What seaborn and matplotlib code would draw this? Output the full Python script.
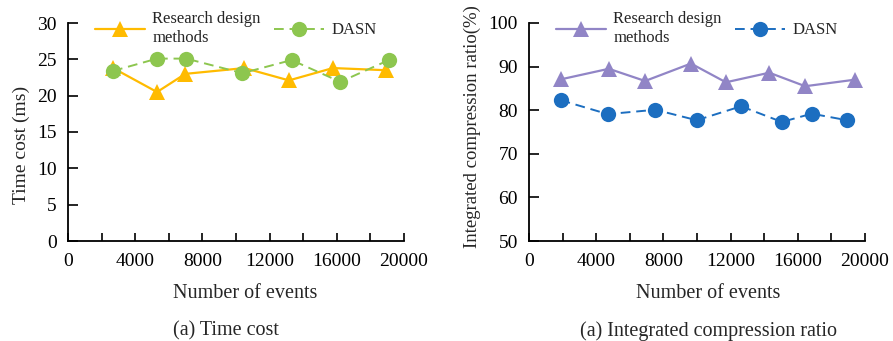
import matplotlib
matplotlib.use("Agg")
import matplotlib.pyplot as plt
import seaborn as sns
import pandas as pd
from matplotlib.ticker import MultipleLocator

# ---- data ----
time_rd_x = [2680, 5300, 6980, 10500, 13150, 15770, 18950]
time_rd_y = [23.8, 20.5, 23.0, 23.8, 22.1, 23.8, 23.5]
time_dasn_x = [2680, 5300, 7040, 10380, 13310, 16210, 19100]
time_dasn_y = [23.4, 25.1, 25.1, 23.1, 24.9, 21.9, 24.9]

comp_rd_x = [1920, 4750, 6910, 9640, 11720, 14300, 16440, 19400]
comp_rd_y = [87.1, 89.5, 86.7, 90.7, 86.4, 88.6, 85.5, 87.0]
comp_dasn_x = [1880, 4690, 7520, 9980, 12630, 15050, 16830, 18930]
comp_dasn_y = [82.3, 79.1, 80.1, 77.7, 80.9, 77.3, 79.2, 77.7]

series_names = ["Research design\nmethods", "DASN"]
xticks = [0, 4000, 8000, 12000, 16000, 20000]
captions = ["(a) Time cost", "(a) Integrated compression ratio"]
ylabels = ["Time cost (ms)", "Integrated compression ratio(%)"]
xlabel = "Number of events"

sns.set_style("white")
plt.rcParams["font.family"] = ["Liberation Serif", "DejaVu Serif"]
plt.rcParams["mathtext.fontset"] = "stix"

fig = plt.figure(figsize=(8.93, 3.41), dpi=100)
W, H = 893, 341

def add_axes(x0, x1, y0, y1):
    return fig.add_axes([x0 / W, 1 - y1 / H, (x1 - x0) / W, (y1 - y0) / H])

ax1 = add_axes(68, 404, 23, 241)
ax2 = add_axes(529, 865, 23, 241)

def draw(ax, rx, ry, dx, dy, c1, c2, ylim, ystep):
    df1 = pd.DataFrame({"x": rx, "y": ry})
    df2 = pd.DataFrame({"x": dx, "y": dy})
    sns.lineplot(data=df1, x="x", y="y", ax=ax, color=c1, marker="^",
                 markersize=11.5, markeredgewidth=0, linewidth=1.6,
                 label=series_names[0], sort=False)
    sns.lineplot(data=df2, x="x", y="y", ax=ax, color=c2, marker="o",
                 markersize=11, markeredgewidth=0, linewidth=1.4,
                 linestyle=(0, (5, 3)), label=series_names[1], sort=False)
    ax.set_xlim(0, 20000)
    ax.set_ylim(*ylim)
    ax.set_xticks(xticks)
    ax.set_xticklabels([str(t) for t in xticks])
    ax.xaxis.set_minor_locator(MultipleLocator(2000))
    ax.yaxis.set_major_locator(MultipleLocator(ystep))
    for s in ["top", "right"]:
        ax.spines[s].set_visible(False)
    for s in ["left", "bottom"]:
        ax.spines[s].set_color("black")
        ax.spines[s].set_linewidth(1.3)
    ax.tick_params(axis="x", which="both", direction="in", length=6, width=1.2,
                   labelsize=14, pad=9, bottom=True, colors="black")
    ax.tick_params(axis="y", which="major", direction="in", length=7.5, width=1.2,
                   labelsize=14, pad=8, left=True, colors="black")
    ax.set_xlabel(xlabel, fontsize=14.5)
    ax.grid(False)
    leg = ax.legend(loc="center left", bbox_to_anchor=(0.08, 0.975), ncol=2,
                    frameon=False, fontsize=12, handlelength=3.0,
                    handletextpad=0.45, columnspacing=0.8, borderpad=0,
                    borderaxespad=0, labelspacing=0.1)
    leg.set_zorder(5)

draw(ax1, time_rd_x, time_rd_y, time_dasn_x, time_dasn_y,
     "#FFBB00", "#8DC64F", (0, 30), 5)
draw(ax2, comp_rd_x, comp_rd_y, comp_dasn_x, comp_dasn_y,
     "#9185C6", "#1C6EC0", (50, 100), 10)

ax1.set_ylabel(ylabels[0], fontsize=14)
ax1.yaxis.set_label_coords(-0.113, 0.44)
ax2.set_ylabel(ylabels[1], fontsize=13.5)
ax2.yaxis.set_label_coords(-0.143, 0.523)

ax1.xaxis.set_label_coords(0.527, -0.195)
ax2.xaxis.set_label_coords(0.533, -0.195)

fig.text(226 / W, 1 - 331 / H, captions[0], ha="center", va="center", fontsize=14.5)
fig.text(709 / W, 1 - 331 / H, captions[1], ha="center", va="center", fontsize=14.5)

fig.savefig("out.png", dpi=100, facecolor="white")
